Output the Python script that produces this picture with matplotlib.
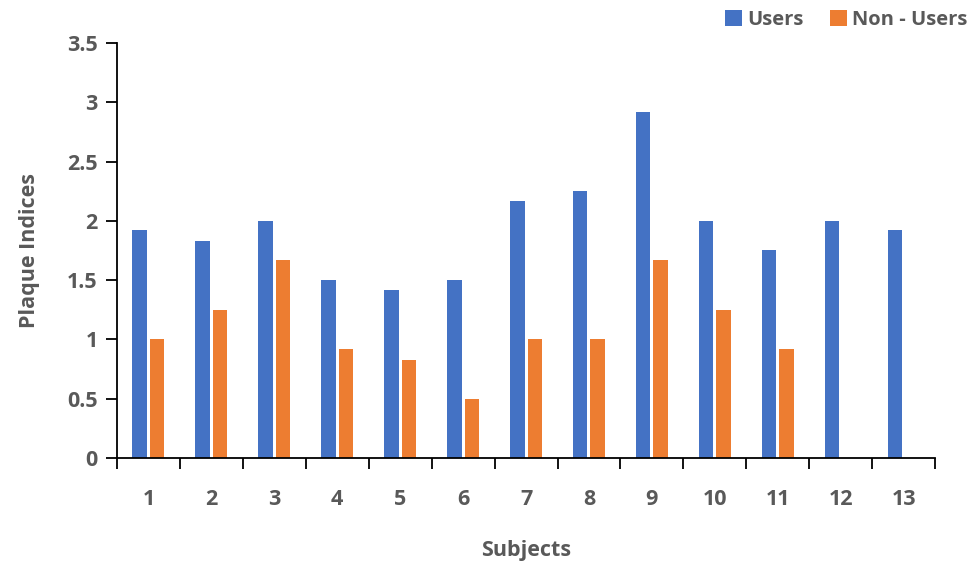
import matplotlib
matplotlib.use('Agg')
import matplotlib.pyplot as plt
import numpy as np

subjects = ['1', '2', '3', '4', '5', '6', '7', '8', '9', '10', '11', '12', '13']
users = [1.92, 1.83, 2.0, 1.5, 1.42, 1.5, 2.17, 2.25, 2.92, 2.0, 1.75, 2.0, 1.92]
non_users = [1.0, 1.25, 1.67, 0.92, 0.83, 0.5, 1.0, 1.0, 1.67, 1.25, 0.92, 0, 0]
yticks = [0, 0.5, 1, 1.5, 2, 2.5, 3, 3.5]
ytick_labels = ['0', '0.5', '1', '1.5', '2', '2.5', '3', '3.5']

plt.rcParams['font.family'] = ['Open Sans', 'DejaVu Sans']
plt.rcParams['font.weight'] = 'bold'
grey = '#595959'

fig = plt.figure(figsize=(9.71, 5.65), dpi=100)
ax = fig.add_axes([0.1205, 0.1894, 0.8425, 0.7345])

x = np.arange(len(subjects))
ax.bar(x - 0.139, users, width=0.23, color='#4472C4', label='Users')
ax.bar(x + 0.139, non_users, width=0.23, color='#ED7D31', label='Non - Users')

ax.set_xlim(-0.5, len(subjects) - 0.5)
ax.set_ylim(0, 3.5)
ax.set_yticks(yticks)
ax.set_yticklabels(ytick_labels)

# category labels between boundary ticks, Excel style
ax.set_xticks(np.arange(-0.5, len(subjects)), minor=False)
ax.set_xticklabels([])
ax.set_xticks(x, minor=True)
ax.set_xticklabels(subjects, minor=True)
ax.tick_params(axis='x', which='major', length=8, width=1.3, color='black', direction='out')
ax.tick_params(axis='x', which='minor', length=0, pad=22, labelsize=15.5, labelcolor=grey)
ax.tick_params(axis='y', length=8, width=1.3, color='black', labelsize=15.5, labelcolor=grey, pad=6)

for s in ['top', 'right']:
    ax.spines[s].set_visible(False)
for s in ['left', 'bottom']:
    ax.spines[s].set_color('black')
    ax.spines[s].set_linewidth(1.3)

ax.set_xlabel('Subjects', fontsize=15.5, color=grey, fontweight='bold', labelpad=22)
ax.set_ylabel('Plaque Indices', fontsize=15.5, color=grey, fontweight='bold', labelpad=19)

leg = fig.legend(loc='upper right', bbox_to_anchor=(1.015, 1.015), ncol=2, frameon=False,
                 fontsize=14.5, handlelength=0.85, handleheight=0.85, columnspacing=1.3,
                 handletextpad=0.25)
for t in leg.get_texts():
    t.set_color(grey)

plt.savefig('out.png', dpi=100)
